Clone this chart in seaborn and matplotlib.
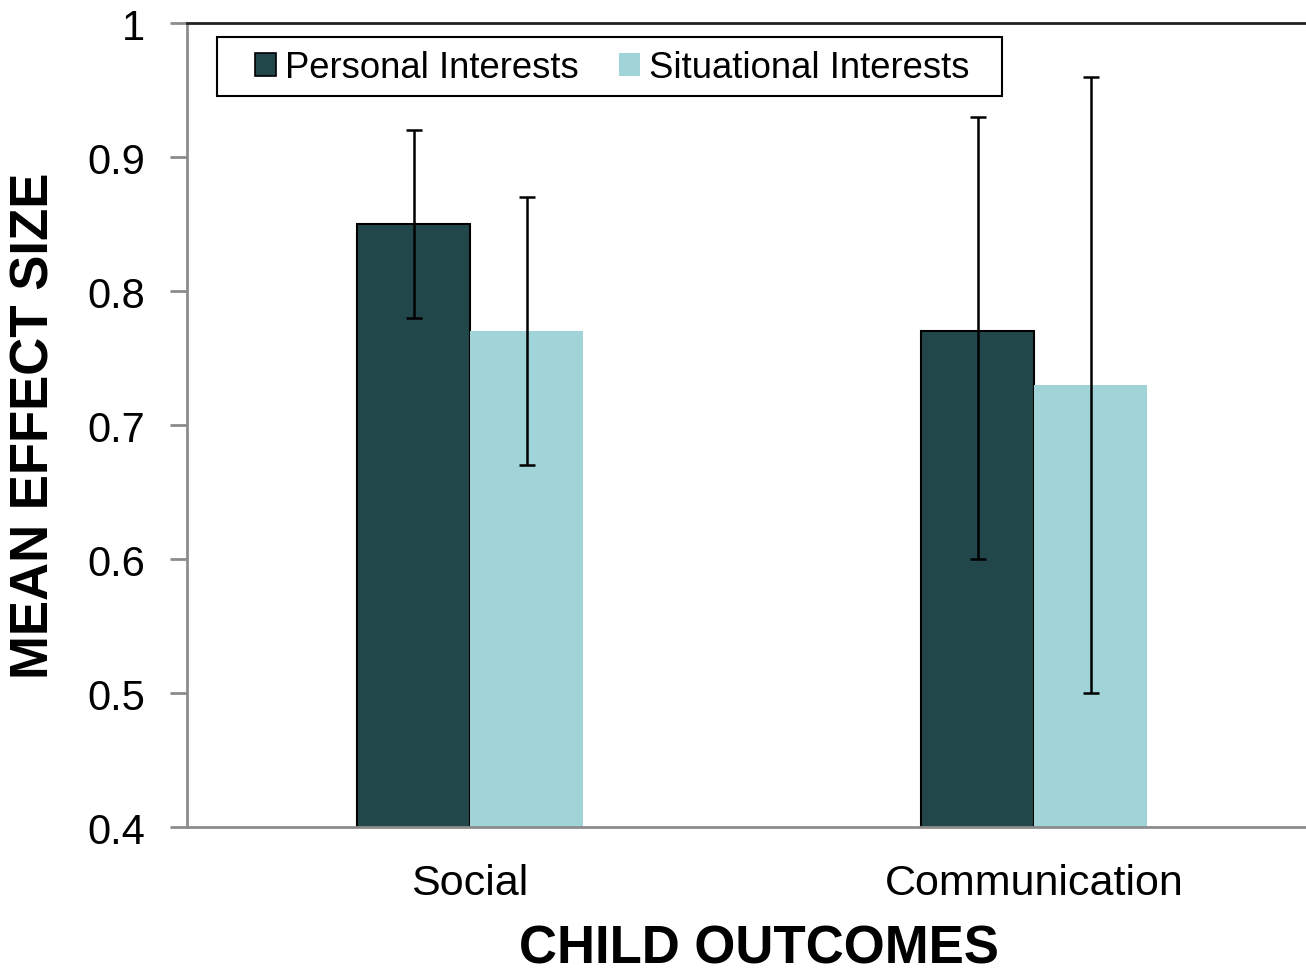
import numpy as np
import pandas as pd
import matplotlib
matplotlib.use("Agg")
import matplotlib.pyplot as plt
from matplotlib.patches import Rectangle
import seaborn as sns

# =========================================
# DATA
# =========================================

outcomes = ["Social", "Communication"]
groups = ["Personal Interests", "Situational Interests"]

personal_mean = [0.85, 0.77]
personal_low = [0.78, 0.60]
personal_high = [0.92, 0.93]

situational_mean = [0.77, 0.73]
situational_low = [0.67, 0.50]
situational_high = [0.87, 0.96]

colors = ["#22474A", "#A0D4D8"]

df = pd.DataFrame({
    "outcome": outcomes * 2,
    "group": [groups[0]] * 2 + [groups[1]] * 2,
    "mean": personal_mean + situational_mean,
    "low": personal_low + situational_low,
    "high": personal_high + situational_high,
})

# =========================================
# STYLE
# =========================================

sns.set_style("white")
plt.rcParams["font.family"] = ["Liberation Sans", "DejaVu Sans"]
plt.rcParams["text.color"] = "black"
plt.rcParams["axes.labelcolor"] = "black"
plt.rcParams["xtick.color"] = "black"
plt.rcParams["ytick.color"] = "black"

fig = plt.figure(figsize=(13.06, 9.79), dpi=100)
ax = fig.add_axes([187 / 1306, 1 - 828 / 979, 1 - 187 / 1306, (828 - 24) / 979])

sns.barplot(
    data=df, x="outcome", y="mean", hue="group",
    order=outcomes, hue_order=groups,
    palette=colors, width=0.4, gap=0, errorbar=None,
    saturation=1, ax=ax,
)

# outline on the dark bars only
bars = [p for p in ax.patches if p.get_height() > 0]
for p in bars:
    p.set_linewidth(0)
for p in bars[:len(outcomes)]:
    p.set_edgecolor("black")
    p.set_linewidth(1.5)

# =========================================
# ERROR BARS
# =========================================

for i, p in enumerate(bars):
    row = df.iloc[i]
    xc = p.get_x() + p.get_width() / 2
    ax.errorbar(
        xc, row["mean"],
        yerr=[[row["mean"] - row["low"]], [row["high"] - row["mean"]]],
        fmt="none", ecolor="black", elinewidth=1.8, capsize=6, capthick=1.8,
    )

# =========================================
# AXES
# =========================================

ax.set_ylim(0.4, 1.0)
ax.set_xlim(-0.502, 1.482)
ax.set_yticks(np.arange(0.4, 1.01, 0.1))
ax.set_yticklabels(["0.4", "0.5", "0.6", "0.7", "0.8", "0.9", "1"])

for side in ["left", "bottom"]:
    ax.spines[side].set_color("#8c8c8c")
    ax.spines[side].set_linewidth(2)
ax.spines["right"].set_visible(False)
ax.spines["top"].set_color("#222222")
ax.spines["top"].set_linewidth(2)

ax.tick_params(axis="y", length=12, width=2, color="#8c8c8c",
               labelcolor="black", labelsize=30, pad=18, left=True,
               direction="out")
ax.tick_params(axis="x", length=0, labelsize=31, pad=26, labelcolor="black")

ax.set_xlabel("CHILD OUTCOMES", fontsize=38, fontweight="bold", labelpad=15)
ax.set_ylabel("MEAN EFFECT SIZE", fontsize=38, fontweight="bold", labelpad=20)
ax.xaxis.label.set_x((759 - 187) / 1119)

# =========================================
# LEGEND
# =========================================

handles, labels = ax.get_legend_handles_labels()
leg = ax.legend(
    handles, labels, ncol=2, loc="center left",
    bbox_to_anchor=(255 / 1306, 1 - 69 / 979), bbox_transform=fig.transFigure,
    fontsize=26.3, frameon=False,
    handlelength=0.57, handleheight=0.57, handletextpad=0.25,
    columnspacing=1.1, borderpad=0, borderaxespad=0,
)
for h in leg.legend_handles:
    h.set_edgecolor("black")
    h.set_linewidth(1.2)
leg.legend_handles[1].set_linewidth(0)

# legend box
fig.patches.append(Rectangle(
    (217 / 1306, 1 - 97 / 979), 785 / 1306, 59 / 979,
    transform=fig.transFigure, fill=False, edgecolor="black", linewidth=1.5,
))

fig.savefig("out.png", dpi=100)
